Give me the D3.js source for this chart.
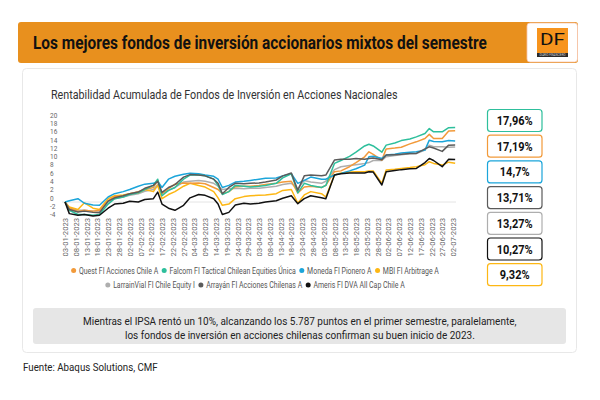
<!DOCTYPE html>
<html><head><meta charset="utf-8">
<script src="https://cdn.jsdelivr.net/npm/d3@7"></script>
<style>html,body{margin:0;padding:0;background:#fff;} svg{display:block;font-family:Roboto,"Noto Sans",sans-serif;}</style>
</head><body><svg id="c" width="600" height="400"></svg>
<script>
// ---------- DATA ----------
const dates = ["03-01-2023","05-01-2023","09-01-2023","12-01-2023","16-01-2023","19-01-2023","23-01-2023","26-01-2023","30-01-2023","02-02-2023","06-02-2023","09-02-2023","13-02-2023","15-02-2023","17-02-2023","20-02-2023","23-02-2023","27-02-2023","02-03-2023","06-03-2023","09-03-2023","13-03-2023","15-03-2023","17-03-2023","20-03-2023","23-03-2023","27-03-2023","30-03-2023","03-04-2023","06-04-2023","11-04-2023","14-04-2023","18-04-2023","21-04-2023","24-04-2023","27-04-2023","02-05-2023","04-05-2023","08-05-2023","11-05-2023","15-05-2023","18-05-2023","22-05-2023","24-05-2023","26-05-2023","30-05-2023","01-06-2023","05-06-2023","08-06-2023","12-06-2023","15-06-2023","19-06-2023","21-06-2023","23-06-2023","27-06-2023","30-06-2023","03-07-2023"];
const quest   = [0,-1.5,-2.3,-2.0,-2.2,-2.0,0.3,1.3,1.5,2.0,2.5,3.0,3.5,5.2,2.0,3.2,4.3,4.6,4.5,4.6,4.4,3.5,3.0,2.0,2.5,3.7,3.8,3.8,4.0,4.2,4.5,4.8,5.0,2.2,3.6,3.8,3.5,4.0,7.3,7.5,8.5,9.5,10.9,12.1,11.5,10.1,12.8,13.0,13.2,14.0,14.5,15.3,16.3,15.3,15.3,17.1,17.19];
const falcom  = [0,-2.0,-3.0,-3.0,-3.2,-3.0,-0.5,0.8,1.2,1.8,2.2,3.0,4.0,5.5,1.5,2.8,3.5,5.5,6.5,6.5,6.3,5.5,4.0,1.8,2.5,4.0,3.8,3.6,3.8,4.0,4.5,5.8,6.8,2.2,4.5,4.0,3.5,4.0,9.3,10.0,11.0,12.0,13.5,13.9,13.5,12.0,13.7,14.2,14.8,15.2,15.7,16.5,17.7,16.9,16.9,17.9,17.96];
const moneda  = [0,0.3,0.8,-0.3,-0.7,-0.8,1.2,2.0,2.5,3.0,3.8,4.3,4.5,5.0,3.5,5.5,6.2,6.7,6.9,6.8,6.5,6.2,5.5,3.5,4.0,4.8,5.0,5.2,5.5,5.7,5.8,6.3,6.8,4.5,5.2,6.0,5.5,5.5,6.5,6.9,7.5,8.0,8.9,10.9,11.0,10.5,11.3,11.5,11.8,12.0,12.1,12.5,14.9,14.6,14.5,14.8,14.7];
const mbi     = [0,-1.2,-1.8,-0.2,-1.5,-1.8,0.8,1.5,1.7,2.0,2.2,3.0,2.5,4.0,0.8,1.8,2.5,3.8,4.5,4.0,3.6,2.5,1.0,-0.8,-0.5,0.8,1.3,1.5,1.6,1.7,2.0,2.8,3.0,-0.3,1.7,2.5,2.0,1.2,6.5,7.0,7.2,7.3,7.3,7.5,7.5,4.5,7.7,7.9,8.1,8.3,8.5,9.0,9.7,9.3,8.9,9.6,9.32];
const larrain = [0,-1.5,-2.0,-2.0,-2.2,-2.2,0.0,0.8,1.2,1.6,2.0,2.6,3.0,4.2,2.0,2.8,3.5,4.8,5.0,5.2,5.0,4.5,3.8,3.0,3.2,3.3,3.2,3.3,3.3,3.5,3.8,4.2,4.5,3.2,5.2,4.8,4.5,5.0,7.8,8.5,8.8,9.0,9.3,9.5,10.0,10.0,10.9,11.2,11.4,11.6,11.7,12.5,13.7,13.3,13.3,13.2,13.27];
const arrayan = [0,-1.8,-2.4,-2.2,-2.5,-2.6,0.2,1.0,1.5,2.0,2.4,3.3,4.0,5.0,2.3,3.5,4.2,6.0,6.6,6.5,6.3,5.5,4.5,2.0,3.5,4.5,4.4,4.5,4.6,4.8,5.3,6.3,7.0,2.8,6.3,6.5,6.3,6.5,10.1,10.3,10.3,10.5,10.3,10.5,10.6,10.2,11.3,11.4,11.5,11.7,11.7,12.8,13.3,13.0,12.2,13.7,13.71];
const ameris  = [0,-2.8,-3.2,-3.0,-3.4,-3.2,-1.5,-0.5,-0.3,0.2,0.0,0.6,0.8,2.4,-0.5,-1.5,-2.0,-0.8,1.0,1.8,1.6,0.8,-0.5,-3.0,-2.5,-0.7,-0.3,-0.5,-0.3,0.0,0.3,0.9,1.5,-0.4,0.8,1.5,1.0,0.8,6.5,6.8,7.0,7.0,7.0,7.3,7.2,4.1,7.3,7.6,7.8,8.0,8.1,9.5,10.5,10.0,8.5,10.3,10.27];

const seriesNames = ["Quest FI Acciones Chile A","Falcom FI Tactical Chilean Equities Única","Moneda FI Pionero A","MBI FI Arbitrage A","LarrainVial FI Chile Equity I","Arrayán FI Acciones Chilenas A","Ameris FI DVA All Cap Chile A"];
const seriesValues = [quest, falcom, moneda, mbi, larrain, arrayan, ameris];
const seriesColors = ["#F29A3A","#2EBF9C","#1BA5DA","#FDB714","#AEAEAE","#5B5B5B","#111111"];
const endLabels = ["17,96%","17,19%","14,7%","13,71%","13,27%","10,27%","9,32%"];
const endOrder = [1,0,2,5,4,6,3];   // series index for each box (top to bottom)
const yTicks = [-4,-2,0,2,4,6,8,10,12,14,16,18,20];
const xTickLabels = ["03-01-2023","08-01-2023","13-01-2023","18-01-2023","23-01-2023","28-01-2023","02-02-2023","07-02-2023","12-02-2023","17-02-2023","22-02-2023","27-02-2023","04-03-2023","09-03-2023","14-03-2023","19-03-2023","24-03-2023","29-03-2023","03-04-2023","08-04-2023","13-04-2023","18-04-2023","23-04-2023","28-04-2023","03-05-2023","08-05-2023","13-05-2023","18-05-2023","23-05-2023","28-05-2023","02-06-2023","07-06-2023","12-06-2023","17-06-2023","22-06-2023","27-06-2023","02-07-2023"];
const title = "Los mejores fondos de inversión accionarios mixtos del semestre";
const subtitle = "Rentabilidad Acumulada de Fondos de Inversión en Acciones Nacionales";
const noteLines = ["Mientras el IPSA rentó un 10%, alcanzando los 5.787 puntos en el primer semestre, paralelamente,","los fondos de inversión en acciones chilenas confirman su buen inicio de 2023."];
const source = "Fuente: Abaqus Solutions, CMF";

// ---------- DRAW ----------
const svg = d3.select("#c");
const parse = d3.utcParse("%d-%m-%Y");
function squeeze(sel, f){ sel.each(function(){ const w=this.getComputedTextLength(); d3.select(this).attr("textLength", w*f).attr("lengthAdjust","spacingAndGlyphs"); }); }
// text condensed to a target width with a scale transform (keeps its real box)
function fitText(parent, tx, ty, target, attrs, str){
  const g = parent.append("g");
  const t = g.append("text").text(str);
  Object.entries(attrs).forEach(([k,v])=>t.attr(k,v));
  const w = t.node().getComputedTextLength();
  g.attr("transform",`translate(${tx},${ty}) scale(${target/w},1)`);
  return t;
}

// header
svg.append("rect").attr("x",18).attr("y",22).attr("width",560).attr("height",41).attr("rx",3).attr("fill","#E8901E");
fitText(svg, 33, 48.5, 454, {"font-size":18,"font-weight":700,"fill":"#111"}, title);
// logo
svg.append("rect").attr("x",527).attr("y",23).attr("width",50.5).attr("height",39).attr("rx",3).attr("fill","#fff").attr("stroke","#f6c5b0").attr("stroke-width",0.8);
svg.append("rect").attr("x",537).attr("y",28).attr("width",31).attr("height",25).attr("fill","#F7941D");
fitText(svg, 540, 45, 25, {"font-size":16,"fill":"#111"}, "DF");
svg.append("rect").attr("x",537).attr("y",53).attr("width",31).attr("height",4).attr("fill","#2a2a2a");
fitText(svg, 539.5, 56.2, 26, {"font-size":2.6,"fill":"#ddd"}, "DIARIO FINANCIERO");

// card
svg.append("rect").attr("x",22.5).attr("y",68.5).attr("width",554).attr("height",284).attr("rx",4).attr("fill","#fff").attr("stroke","#e8e8e8");
fitText(svg, 51, 99, 347, {"font-size":12,"fill":"#333"}, subtitle);

// scales
const x = d3.scaleUtc().domain([parse("03-01-2023"), parse("02-07-2023")]).range([65,453]);
const y = d3.scaleLinear().domain([0,20]).range([202,119]);

// zero line
svg.append("line").attr("x1",62).attr("x2",456).attr("y1",y(0)).attr("y2",y(0)).attr("stroke","#e4e4e4").attr("stroke-width",1);

// y axis labels
const yAxis = d3.axisLeft(y).tickValues(yTicks).tickSize(0).tickFormat(d=>d);
const gy = svg.append("g").attr("transform","translate(50,0)").call(yAxis);
gy.select(".domain").remove();
gy.selectAll("text").attr("x",0).attr("dy","-0.25em").attr("text-anchor","start").attr("fill","#666").attr("font-size",7.6).attr("font-family","Roboto, sans-serif");
squeeze(gy.selectAll("text"), 0.85);

// x axis labels
const xAxis = d3.axisBottom(x).tickValues(xTickLabels.map(parse)).tickSize(0).tickFormat((d,i)=>xTickLabels[i]);
const gx = svg.append("g").attr("transform","translate(0,218)").call(xAxis);
gx.select(".domain").remove();
gx.selectAll("text").attr("transform","rotate(-90)").attr("x",0).attr("y",0).attr("dy","0.33em").attr("text-anchor","end")
  .attr("fill","#666").attr("font-size",8).attr("font-family","Roboto, sans-serif")
  .attr("textLength",38.5).attr("lengthAdjust","spacingAndGlyphs");

// lines
const line = d3.line().x((d,i)=>x(parse(dates[i]))).y(d=>y(d));
const drawOrder = [4,3,0,2,1,5,6];
drawOrder.forEach(k=>{
  svg.append("path").datum(seriesValues[k]).attr("d",line).attr("fill","none")
    .attr("stroke",seriesColors[k]).attr("stroke-width",1.5).attr("stroke-linejoin","round");
});

// legend
const rows = [[0,1,2,3],[4,5,6]];
const rowY = [270.5, 285];
const sx = 0.8;
rows.forEach((row,ri)=>{
  const g = svg.append("g");
  let cx = 0;
  row.forEach((k,j)=>{
    g.append("circle").attr("cx",cx).attr("cy",rowY[ri]).attr("r",2.5).attr("fill",seriesColors[k]);
    const tg = g.append("g").attr("transform",`translate(${cx+5.3},${rowY[ri]}) scale(${sx},1)`);
    const t = tg.append("text").attr("dy","0.35em").attr("font-size",8.7).attr("fill","#555").text(seriesNames[k]);
    const w = t.node().getComputedTextLength()*sx;
    cx = cx + 5.3 + w + 6;
  });
  const total = cx - 6 + 2.5;
  g.attr("transform",`translate(${255 - total/2 + 2.5},0)`);
});

// end boxes
endOrder.forEach((k,i)=>{
  const by = 109.5 + i*25.7;
  svg.append("rect").attr("x",487.5).attr("y",by).attr("width",54.5).attr("height",22).attr("rx",3)
    .attr("fill","#fff").attr("stroke",seriesColors[k]).attr("stroke-width",1.2);
  const t = svg.append("text").attr("x",514.7).attr("y",by+11).attr("dy","0.36em").attr("text-anchor","middle")
    .attr("font-size",12.5).attr("font-weight",700).attr("fill","#111").text(endLabels[i]);
  squeeze(t, 0.88);
});

// note box
svg.append("rect").attr("x",33).attr("y",308).attr("width",533).attr("height",36).attr("rx",3).attr("fill","#e6e6e6");
const nl = [434, 350];
noteLines.forEach((s,i)=>{
  fitText(svg, 300 - nl[i]/2, 325.2 + i*13.5, nl[i], {"font-size":10.5,"fill":"#222"}, s);
});

fitText(svg, 23, 370.7, 135, {"font-size":10.5,"fill":"#222"}, source);
</script></body></html>
